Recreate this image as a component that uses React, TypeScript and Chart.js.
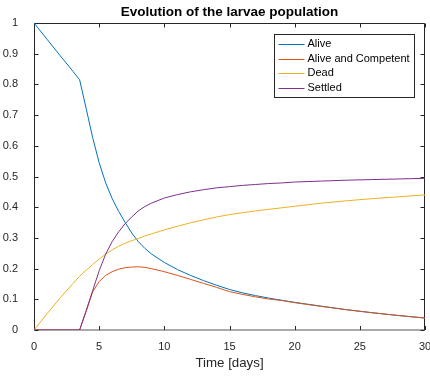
import React, { useEffect, useRef } from "react";
import { Chart, registerables } from "chart.js";

Chart.register(...registerables);

const titleText = "Evolution of the larvae population";
const xAxisLabel = "Time [days]";
const seriesNames = ["Alive", "Alive and Competent", "Dead", "Settled"];
const seriesColors = ["#0072BD", "#D95319", "#EDB120", "#7E2F8E"];

const xTickValues = [0, 5, 10, 15, 20, 25, 30];
const yTickValues = [0, 0.1, 0.2, 0.3, 0.4, 0.5, 0.6, 0.7, 0.8, 0.9, 1];
const yTickLabels = ["0", "0.1", "0.2", "0.3", "0.4", "0.5", "0.6", "0.7", "0.8", "0.9", "1"];

const timeDays = [0, 1, 2, 3, 3.5, 4, 4.5, 5, 5.5, 6, 6.5, 7, 7.5, 8, 8.5, 9, 10, 11, 12, 13, 14, 15, 16, 17, 18, 19, 20, 22, 24, 26, 28, 30];
const alive = [1, 0.947, 0.894, 0.842, 0.815, 0.722, 0.627, 0.545, 0.479, 0.428, 0.386, 0.35, 0.316, 0.288, 0.266, 0.248, 0.22, 0.197, 0.178, 0.161, 0.146, 0.132, 0.121, 0.112, 0.104, 0.097, 0.09, 0.078, 0.066, 0.056, 0.047, 0.039];
const aliveCompetent = [0, 0, 0, 0, 0, 0.06, 0.124, 0.158, 0.178, 0.19, 0.198, 0.203, 0.205, 0.206, 0.204, 0.2, 0.19, 0.178, 0.165, 0.152, 0.139, 0.125, 0.116, 0.108, 0.101, 0.096, 0.089, 0.077, 0.066, 0.056, 0.047, 0.039];
const dead = [0, 0.053, 0.104, 0.152, 0.175, 0.195, 0.213, 0.231, 0.247, 0.261, 0.273, 0.283, 0.291, 0.298, 0.306, 0.313, 0.326, 0.338, 0.349, 0.359, 0.368, 0.376, 0.382, 0.388, 0.393, 0.398, 0.403, 0.413, 0.421, 0.428, 0.434, 0.44];
const settled = [0, 0, 0, 0, 0, 0.063, 0.128, 0.193, 0.247, 0.288, 0.32, 0.347, 0.368, 0.388, 0.402, 0.413, 0.43, 0.441, 0.45, 0.457, 0.463, 0.467, 0.471, 0.474, 0.477, 0.479, 0.482, 0.485, 0.488, 0.49, 0.492, 0.494];

const seriesValues = [alive, aliveCompetent, dead, settled];

const FONT = "'Liberation Sans', Arial, Helvetica, sans-serif";
const AXIS_COLOR = "#262626";

const framePlugin = {
  id: "matlabFrame",
  beforeDatasetsDraw(chart: any) {
    const { ctx, chartArea: a, scales } = chart;
    ctx.save();
    ctx.strokeStyle = AXIS_COLOR;
    ctx.lineWidth = 1;
    const L = Math.round(a.left) + 0.5;
    const R = Math.round(a.right) - 0.5;
    const T = Math.round(a.top) + 0.5;
    const B = Math.round(a.bottom);
    ctx.beginPath();
    ctx.moveTo(L, B);
    ctx.lineTo(L, T);
    ctx.lineTo(R, T);
    ctx.lineTo(R, B);
    ctx.stroke();
    ctx.strokeStyle = "#555555";
    ctx.beginPath();
    ctx.moveTo(L - 0.5, B);
    ctx.lineTo(R + 0.5, B);
    ctx.stroke();
    ctx.strokeStyle = AXIS_COLOR;
    const tl = 4;
    ctx.beginPath();
    for (const v of xTickValues) {
      const px = Math.round(scales.x.getPixelForValue(v)) + 0.5;
      ctx.moveTo(px, B);
      ctx.lineTo(px, B - tl);
      ctx.moveTo(px, T);
      ctx.lineTo(px, T + tl);
    }
    for (const v of yTickValues) {
      const py = Math.round(scales.y.getPixelForValue(v)) + 0.5;
      ctx.moveTo(L, py);
      ctx.lineTo(L + tl, py);
      ctx.moveTo(R, py);
      ctx.lineTo(R - tl, py);
    }
    ctx.stroke();
    ctx.restore();
  },
  afterDatasetsDraw(chart: any) {
    const { ctx, chartArea: a } = chart;
    ctx.save();
    // legend
    ctx.font = `11px ${FONT}`;
    const names = chart.data.datasets.map((d: any) => d.label);
    const maxW = Math.max(...names.map((n: string) => ctx.measureText(n).width));
    const boxW = Math.round(34 + maxW + 4);
    const rowH = 14.6;
    const boxH = Math.round(19 + rowH * (names.length - 1));
    const bx = Math.round(a.right - 11 - boxW) + 0.5;
    const by = Math.round(a.top + 11) + 0.5;
    ctx.fillStyle = "#ffffff";
    ctx.fillRect(bx, by, boxW, boxH);
    ctx.strokeStyle = AXIS_COLOR;
    ctx.lineWidth = 1;
    ctx.strokeRect(bx, by, boxW, boxH);
    ctx.textBaseline = "middle";
    ctx.textAlign = "left";
    chart.data.datasets.forEach((d: any, i: number) => {
      const yy = by + 9.5 + i * rowH;
      ctx.strokeStyle = d.borderColor;
      ctx.lineWidth = 1;
      ctx.beginPath();
      ctx.moveTo(bx + 4, Math.round(yy) + 0.5);
      ctx.lineTo(bx + 30, Math.round(yy) + 0.5);
      ctx.stroke();
      ctx.fillStyle = "#000000";
      ctx.fillText(d.label, bx + 33, yy);
    });

    // title
    ctx.font = `bold 13.5px ${FONT}`;
    ctx.fillStyle = "#000000";
    ctx.textAlign = "center";
    ctx.textBaseline = "alphabetic";
    ctx.fillText(titleText, (a.left + a.right) / 2, 16);
    ctx.restore();
  },
};

export default function App() {
  const canvasRef = useRef<HTMLCanvasElement | null>(null);

  useEffect(() => {
    const canvas = canvasRef.current;
    if (!canvas) return;
    const datasets = seriesNames.map((name, i) => ({
      label: name,
      data: timeDays.map((t, j) => ({ x: t, y: seriesValues[i][j] })),
      borderColor: seriesColors[i],
      backgroundColor: seriesColors[i],
      borderWidth: 1,
      pointRadius: 0,
      fill: false,
      tension: 0,
      order: seriesNames.length - i,
    }));
    const chart = new Chart(canvas, {
      type: "line",
      data: { datasets },
      options: {
        animation: false,
        responsive: false,
        devicePixelRatio: 1,
        layout: { padding: { left: 0, top: 23, right: 5, bottom: 0 } },
        plugins: {
          legend: { display: false },
          title: { display: false },
          tooltip: { enabled: false },
        },
        scales: {
          x: {
            type: "linear",
            min: 0,
            max: 30,
            grid: { display: false },
            border: { display: false },
            afterBuildTicks: (s: any) => {
              s.ticks = xTickValues.map((v) => ({ value: v }));
            },
            afterFit: (s: any) => {
              s.height = 46;
              s.paddingLeft = 0;
              s.paddingRight = 0;
            },
            ticks: {
              padding: 2,
              maxRotation: 0,
              autoSkip: false,
              color: AXIS_COLOR,
              font: { family: FONT, size: 11 },
              callback: (v: any) => String(v),
            },
            title: {
              display: true,
              text: xAxisLabel,
              color: AXIS_COLOR,
              font: { family: FONT, size: 13.3 },
              padding: { top: 0, bottom: 5 },
            },
          },
          y: {
            type: "linear",
            min: 0,
            max: 1,
            grid: { display: false },
            border: { display: false },
            afterBuildTicks: (s: any) => {
              s.ticks = yTickValues.map((v) => ({ value: v }));
            },
            afterFit: (s: any) => {
              s.width = 34;
              s.paddingTop = 0;
              s.paddingBottom = 0;
            },
            ticks: {
              padding: 8,
              autoSkip: false,
              color: AXIS_COLOR,
              font: { family: FONT, size: 11 },
              callback: (v: any) => {
                const idx = yTickValues.findIndex((t) => Math.abs(t - v) < 1e-9);
                return idx >= 0 ? yTickLabels[idx] : "";
              },
            },
          },
        },
      },
      plugins: [framePlugin],
    } as any);
    return () => chart.destroy();
  }, []);

  return (
    <div style={{ position: "absolute", left: 0, top: 0, width: 430, height: 376, background: "#ffffff" }}>
      <canvas ref={canvasRef} width={430} height={376} style={{ display: "block" }} />
    </div>
  );
}
